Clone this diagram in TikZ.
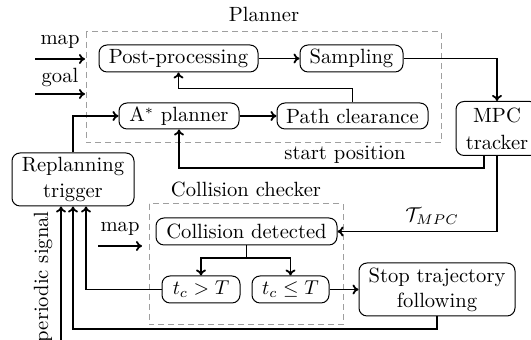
\documentclass[tikz,border=0pt]{standalone}
\usetikzlibrary{arrows.meta,calc}
\begin{document}
\begin{tikzpicture}[x=0.5pt,y=-0.5pt,
  every node/.style={font=\fontsize{10.3pt}{12.6pt}\selectfont},
  blk/.style={draw, line width=0.5pt, rounded corners=4pt, inner sep=0pt, align=center},
  arr/.style={-{To[length=3pt,width=5pt]}, line width=0.9pt},
  ln/.style={line width=0.9pt},
  grp/.style={draw=gray!75, dashed, dash pattern=on 3pt off 2pt, line width=0.5pt},
  lbl/.style={inner sep=0pt}]
\useasboundingbox (0,0) rectangle (531,340);

% group frames
\draw[grp] (86,32) rectangle (441,143);
\draw[grp] (149,204) rectangle (343,325);
\node[lbl] (plannerlbl) at (264,14) {Planner};
\node[lbl] (checkerlbl) at (246,189) {Collision checker};

% planner blocks
\node[blk, minimum width=79.5pt, minimum height=13.5pt] (post) at (178.5,58.5) {Post-processing};
\node[blk, minimum width=51.5pt, minimum height=13.5pt] (samp) at (351.5,58.5) {Sampling};
\node[blk, minimum width=60pt, minimum height=13pt] (astar) at (179,116) {A$^*$ planner};
\node[blk, minimum width=75.5pt, minimum height=13pt] (clear) at (352.5,116) {Path clearance};
\node[blk, minimum width=41pt, minimum height=27pt] (mpc) at (497,128.5) {MPC\\[1pt]tracker};
\node[blk, minimum width=61pt, minimum height=26.5pt] (trig) at (73,179.5) {Replanning\\trigger};

% collision checker blocks
\node[blk, minimum width=90.5pt, minimum height=13.5pt] (coll) at (246.5,231.5) {Collision detected};
\node[blk, minimum width=39pt, minimum height=13.5pt] (gt) at (201,289.5) {$t_c > T$};
\node[blk, minimum width=38.5pt, minimum height=13.5pt] (le) at (290.5,289.5) {$t_c \leq T$};
\node[blk, minimum width=78pt, minimum height=26.5pt] (stop) at (437,289.5) {Stop trajectory\\following};

% inputs
\coordinate (mapA) at (35,59);
\coordinate (mapB) at (85,59);
\coordinate (goalA) at (35,94);
\coordinate (goalB) at (85,94);
\coordinate (mapC) at (98,246);
\coordinate (mapD) at (142,246);
\draw[arr] (mapA) -- (mapB);
\draw[arr] (goalA) -- (goalB);
\draw[arr] (mapC) -- (mapD);
\node[lbl] (maplbl) at (60,42) {map};
\node[lbl] (goallbl) at (60,77) {goal};
\node[lbl] (map2lbl) at (120,229) {map};

% planner flow
\draw[arr] (post) -- (samp);
\draw[arr] (samp.east) -| (mpc.north);
\draw[arr] (astar) -- (clear);
\draw[arr] (clear.north) -- ++(0,-14) -| (post.south);
\draw[arr] (trig.north) |- (astar.west);

% feedback from the tracker
\coordinate (sp) at (484,168);
\draw[arr] (mpc.south -| sp) -- (sp) -| (astar.south);
\node[lbl] (splbl) at (345,155) {start position};
\draw[arr] (mpc.south) |- (coll.east);
\node[lbl] (tlbl) at (432,216) {$\mathcal{T}_{MPC}$};

% collision decision
\coordinate (br) at (246.5,258);
\draw[ln] (coll.south) -- (br);
\draw[arr] (br) -| (gt.north);
\draw[arr] (br) -| (le.north);
\draw[arr] (le) -- (stop);

% back to the replanning trigger
\coordinate (gtx) at (86,289.5);
\draw[arr] (gt.west) -- (gtx) -- (gtx |- trig.south);
\coordinate (sb) at (73,329);
\draw[arr] (stop.south) |- (sb) -- (trig.south);
\coordinate (ps) at (61,345);
\draw[arr] (ps) -- (ps |- trig.south);
\node[lbl, rotate=90, anchor=east] (pslbl) at (43,211) {periodic signal};
\end{tikzpicture}
\end{document}
